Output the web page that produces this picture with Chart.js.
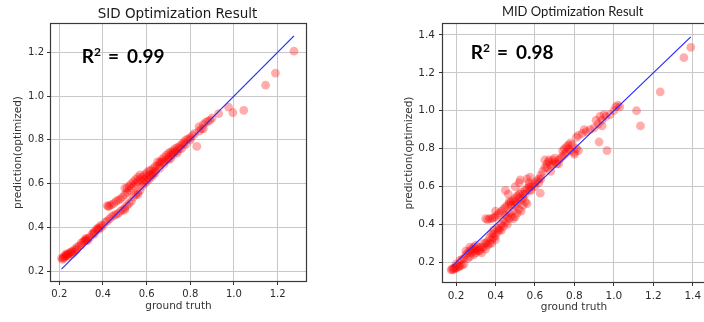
<!DOCTYPE html>
<html>
<head>
<meta charset="utf-8">
<script src="https://cdn.jsdelivr.net/npm/chart.js@4"></script>
<style>
  html, body { margin: 0; padding: 0; background: #fff; overflow: hidden; width: 704px; height: 322px; }
  .box { position: absolute; top: 0; height: 322px; }
  #boxSid { left: 0; width: 340px; }
  #boxMid { left: 360px; width: 380px; }
</style>
</head>
<body>
<div class="box" id="boxSid"><canvas id="sid"></canvas></div>
<div class="box" id="boxMid"><canvas id="mid"></canvas></div>
<script>
// SID panel: ground truth vs prediction
var sidTruth = [
  0.21, 0.215, 0.22, 0.225, 0.23, 0.235, 0.24, 0.245, 0.25, 0.255, 0.26, 0.27, 0.28, 0.29, 0.30, 0.31,
  0.315, 0.32, 0.325, 0.33, 0.34, 0.35, 0.355, 0.36, 0.37, 0.375, 0.38, 0.39, 0.40, 0.41, 0.42, 0.43,
  0.44, 0.45, 0.46, 0.47, 0.48, 0.49, 0.50, 0.51, 0.52, 0.50, 0.53, 0.54, 0.55, 0.56, 0.57, 0.58,
  0.59, 0.60, 0.61, 0.62, 0.63, 0.64, 0.66, 0.68, 0.70, 0.71,
  0.42, 0.425, 0.43, 0.44, 0.45, 0.46, 0.47, 0.48, 0.49, 0.50, 0.50, 0.51, 0.52, 0.52, 0.53, 0.54,
  0.55, 0.55, 0.56, 0.57, 0.58, 0.58, 0.59, 0.60, 0.60, 0.61, 0.62, 0.63, 0.64, 0.65, 0.66, 0.67,
  0.68, 0.69, 0.70, 0.71, 0.72, 0.73, 0.74, 0.75, 0.76, 0.77, 0.78, 0.79, 0.80, 0.81, 0.82, 0.84,
  0.85, 0.86, 0.87, 0.88, 0.89, 0.90,
  0.64, 0.68, 0.72, 0.74, 0.76, 0.78, 0.80, 0.84, 0.86,
  0.51, 0.53, 0.54, 0.56, 0.57, 0.59, 0.61, 0.62, 0.63, 0.65, 0.66, 0.67, 0.69, 0.70, 0.71, 0.72,
  0.73, 0.74, 0.75, 0.77,
  0.22, 0.23, 0.24, 0.26, 0.27, 0.28, 0.30, 0.32, 0.33, 0.36, 0.38, 0.39,
  0.56, 0.83, 0.93, 0.975, 0.995, 1.045, 1.145, 1.19, 1.275
];
var sidPred = [
  0.26, 0.255, 0.265, 0.27, 0.27, 0.275, 0.28, 0.28, 0.285, 0.29, 0.29, 0.30, 0.31, 0.315, 0.32, 0.335,
  0.34, 0.35, 0.345, 0.35, 0.355, 0.37, 0.375, 0.38, 0.39, 0.395, 0.40, 0.41, 0.41, 0.425, 0.43, 0.44,
  0.45, 0.455, 0.46, 0.465, 0.475, 0.48, 0.49, 0.50, 0.51, 0.48, 0.52, 0.54, 0.55, 0.56, 0.57, 0.59,
  0.60, 0.61, 0.62, 0.63, 0.64, 0.65, 0.67, 0.69, 0.71, 0.715,
  0.50, 0.495, 0.50, 0.505, 0.51, 0.52, 0.525, 0.53, 0.54, 0.55, 0.58, 0.56, 0.57, 0.59, 0.58, 0.59,
  0.60, 0.62, 0.61, 0.62, 0.63, 0.61, 0.64, 0.65, 0.63, 0.64, 0.66, 0.67, 0.66, 0.70, 0.70, 0.71,
  0.72, 0.73, 0.74, 0.745, 0.75, 0.76, 0.765, 0.77, 0.78, 0.79, 0.80, 0.805, 0.81, 0.82, 0.83, 0.84,
  0.85, 0.87, 0.88, 0.885, 0.89, 0.90,
  0.68, 0.70, 0.73, 0.74, 0.76, 0.78, 0.80, 0.86, 0.85,
  0.58, 0.60, 0.61, 0.63, 0.64, 0.62, 0.66, 0.64, 0.65, 0.68, 0.69, 0.70, 0.71, 0.72, 0.73, 0.74,
  0.745, 0.75, 0.76, 0.78,
  0.26, 0.28, 0.27, 0.28, 0.29, 0.30, 0.33, 0.34, 0.34, 0.37, 0.39, 0.40,
  0.55, 0.77, 0.92, 0.95, 0.925, 0.935, 1.05, 1.105, 1.205
];
var sidFit = [0.21, 1.275];
var sidTicks = [0.2, 0.4, 0.6, 0.8, 1.0, 1.2];

// MID panel
var midTruth = [
  0.175, 0.18, 0.185, 0.19, 0.195, 0.20, 0.21, 0.215, 0.22, 0.23, 0.24, 0.20, 0.22, 0.23,
  0.24, 0.25, 0.26, 0.26, 0.27, 0.27, 0.28, 0.28, 0.29, 0.29, 0.30, 0.30, 0.31, 0.32, 0.32, 0.33,
  0.34, 0.35, 0.36, 0.36, 0.37, 0.37, 0.38, 0.38, 0.39, 0.39, 0.40, 0.40, 0.41, 0.42, 0.43, 0.43,
  0.44, 0.45, 0.46, 0.47, 0.48, 0.49, 0.50, 0.51, 0.52, 0.53, 0.54, 0.55, 0.56,
  0.35, 0.36, 0.37, 0.38, 0.39, 0.40, 0.40, 0.41, 0.42, 0.43, 0.44, 0.45, 0.46, 0.47, 0.48, 0.48,
  0.49, 0.50, 0.50, 0.51, 0.52, 0.52, 0.53, 0.54, 0.55, 0.56, 0.57, 0.58, 0.59, 0.60, 0.61,
  0.465, 0.45, 0.50, 0.525, 0.52, 0.575, 0.56, 0.57, 0.627, 0.60, 0.47, 0.45,
  0.62, 0.63, 0.64, 0.65, 0.65, 0.66, 0.67, 0.68, 0.68, 0.69, 0.70, 0.71, 0.72, 0.73, 0.74, 0.74,
  0.75, 0.76, 0.76, 0.77, 0.78, 0.79, 0.80, 0.81, 0.82, 0.81, 0.82, 0.84, 0.85, 0.86, 0.88, 0.90,
  0.91, 0.92, 0.93, 0.94, 0.95, 0.94, 0.96, 0.98, 1.00, 1.01, 1.02, 1.03,
  0.25, 0.27, 0.29, 0.30, 0.31, 0.33, 0.34, 0.35, 0.38, 0.39, 0.41, 0.42, 0.44, 0.46, 0.47, 0.49,
  0.50, 0.51, 0.53, 0.54, 0.55, 0.57, 0.58, 0.62, 0.63, 0.66, 0.67, 0.69, 0.70, 0.72, 0.75, 0.77,
  0.78, 0.80,
  0.925, 0.965, 1.115, 1.135, 1.235, 1.355, 1.39
];
var midPred = [
  0.16, 0.165, 0.16, 0.17, 0.165, 0.17, 0.175, 0.18, 0.18, 0.185, 0.19, 0.19, 0.21, 0.215,
  0.22, 0.24, 0.25, 0.22, 0.26, 0.23, 0.27, 0.25, 0.28, 0.24, 0.27, 0.25, 0.28, 0.27, 0.26, 0.25,
  0.28, 0.27, 0.29, 0.31, 0.30, 0.33, 0.32, 0.35, 0.33, 0.37, 0.32, 0.34, 0.36, 0.38, 0.37, 0.40,
  0.39, 0.41, 0.40, 0.43, 0.44, 0.43, 0.44, 0.46, 0.48, 0.47, 0.50, 0.52, 0.51,
  0.43, 0.425, 0.43, 0.43, 0.435, 0.44, 0.47, 0.45, 0.46, 0.47, 0.48, 0.49, 0.50, 0.51, 0.52, 0.50,
  0.53, 0.54, 0.52, 0.55, 0.56, 0.54, 0.57, 0.56, 0.58, 0.59, 0.58, 0.60, 0.61, 0.62, 0.63,
  0.56, 0.58, 0.60, 0.635, 0.62, 0.65, 0.64, 0.62, 0.565, 0.60, 0.52, 0.45,
  0.64, 0.66, 0.68, 0.70, 0.74, 0.72, 0.73, 0.71, 0.68, 0.72, 0.73, 0.72, 0.74, 0.75, 0.76, 0.79,
  0.80, 0.78, 0.81, 0.80, 0.79, 0.82, 0.78, 0.80, 0.79, 0.86, 0.87, 0.88, 0.90, 0.89, 0.90, 0.91,
  0.95, 0.93, 0.97, 0.95, 0.98, 0.92, 0.97, 0.98, 1.00, 1.02, 1.03, 1.02,
  0.26, 0.28, 0.26, 0.29, 0.26, 0.28, 0.30, 0.30, 0.30, 0.35, 0.38, 0.37, 0.42, 0.44, 0.46, 0.47,
  0.50, 0.51, 0.53, 0.54, 0.56, 0.60, 0.58, 0.62, 0.64, 0.70, 0.74, 0.74, 0.75, 0.72, 0.77, 0.82,
  0.83, 0.77,
  0.835, 0.79, 1.00, 0.92, 1.10, 1.28, 1.335
];
var midFit = [0.18, 1.39];
var midTicks = [0.2, 0.4, 0.6, 0.8, 1.0, 1.2, 1.4];

// frame, title and R^2 note drawn on top of each panel
var decorations = {
  id: 'decorations',
  afterDraw: function(chart) {
    var o = chart.options.plugins.decorations;
    var ctx = chart.ctx;
    var a = chart.chartArea;
    ctx.save();
    ctx.strokeStyle = '#3a3a3a';
    ctx.lineWidth = 1.2;
    ctx.strokeRect(a.left - 0.5, a.top - 0.5, a.right - a.left + 1, a.bottom - a.top + 1);

    ctx.fillStyle = '#1a1a1a';
    ctx.textAlign = 'center';
    ctx.textBaseline = 'alphabetic';
    ctx.font = o.titleFont;
    ctx.fillText(o.title, o.titleX, o.titleY);

    ctx.fillStyle = '#000';
    ctx.textAlign = 'left';
    ctx.font = 'bold 19px Lato';
    ctx.fillText('R', o.noteX, o.noteY);
    ctx.font = 'bold 12px Lato';
    ctx.fillText('2', o.noteX + 12.2, o.noteY - 7);
    ctx.font = 'bold 19px Lato';
    ctx.fillText('=', o.noteX + 26.3, o.noteY);
    ctx.fillText(o.note, o.noteX + 45.3, o.noteY);
    ctx.restore();
  }
};

function makeChart(id, p) {
  var pts = p.truth.map(function(x, i) { return { x: x, y: p.pred[i] }; });
  var fit = p.fit.map(function(v) { return { x: v, y: v }; });
  var tickFont = { family: 'DejaVu Sans', size: p.tickSize };
  var titleFont = { family: 'DejaVu Sans', size: p.labelSize };

  function axis(min, max, titleText, titlePad, fixedSize, horizontal) {
    return {
      type: 'linear',
      min: min,
      max: max,
      grid: { color: '#c8c8c8', lineWidth: 1, tickLength: 4, tickColor: '#333' },
      border: { display: false },
      ticks: {
        font: tickFont,
        color: '#2b2b2b',
        padding: p.tickPad,
        callback: function(v) { return v.toFixed(1); }
      },
      afterBuildTicks: function(scale) {
        scale.ticks = p.ticks.map(function(v) { return { value: v }; });
      },
      afterFit: function(scale) {
        if (horizontal) scale.height = fixedSize; else scale.width = fixedSize;
      },
      title: { display: true, text: titleText, font: titleFont, color: '#333', padding: titlePad }
    };
  }

  return new Chart(document.getElementById(id), {
    type: 'scatter',
    data: {
      datasets: [{
        data: fit,
        type: 'line',
        showLine: true,
        borderColor: 'rgb(40, 40, 255)',
        borderWidth: 1.2,
        pointRadius: 0,
        order: 0
      }, {
        data: pts,
        backgroundColor: 'rgba(255, 0, 0, 0.32)',
        borderWidth: 0,
        pointRadius: 4.4,
        order: 1
      }]
    },
    options: {
      responsive: true,
      maintainAspectRatio: false,
      animation: false,
      layout: { padding: { top: 24, right: p.padRight, left: 0, bottom: 0 } },
      scales: {
        x: axis(p.xMin, p.xMax, 'ground truth', { top: 0, bottom: p.xTitlePad }, p.xHeight, true),
        y: axis(p.yMin, p.yMax, 'prediction(optimized)', { top: p.yTitlePad, bottom: 0 }, p.yWidth, false)
      },
      plugins: {
        legend: { display: false },
        tooltip: { enabled: false },
        decorations: p.deco
      }
    },
    plugins: [decorations]
  });
}

makeChart('sid', {
  truth: sidTruth, pred: sidPred, fit: sidFit, ticks: sidTicks,
  xMin: 0.162, xMax: 1.33, yMin: 0.156, yMax: 1.329,
  yWidth: 51, xHeight: 41, padRight: 34,
  tickSize: 10, labelSize: 10.5, tickPad: 3,
  xTitlePad: 9, yTitlePad: 12,
  deco: {
    title: 'SID Optimization Result', titleFont: '13.5px "DejaVu Sans"', titleX: 177.5, titleY: 18.3,
    note: '0.99', noteX: 81.7, noteY: 63.3
  }
});

makeChart('mid', {
  truth: midTruth, pred: midPred, fit: midFit, ticks: midTicks,
  xMin: 0.134, xMax: 1.462, yMin: 0.096, yMax: 1.458,
  yWidth: 83, xHeight: 40, padRight: 35,
  tickSize: 10.5, labelSize: 10.5, tickPad: 4,
  xTitlePad: 8, yTitlePad: 43,
  deco: {
    title: 'MID Optimization Result', titleFont: '13px Lato', titleX: 212.7, titleY: 15.7,
    note: '0.98', noteX: 110.7, noteY: 59
  }
});
</script>
</body>
</html>
